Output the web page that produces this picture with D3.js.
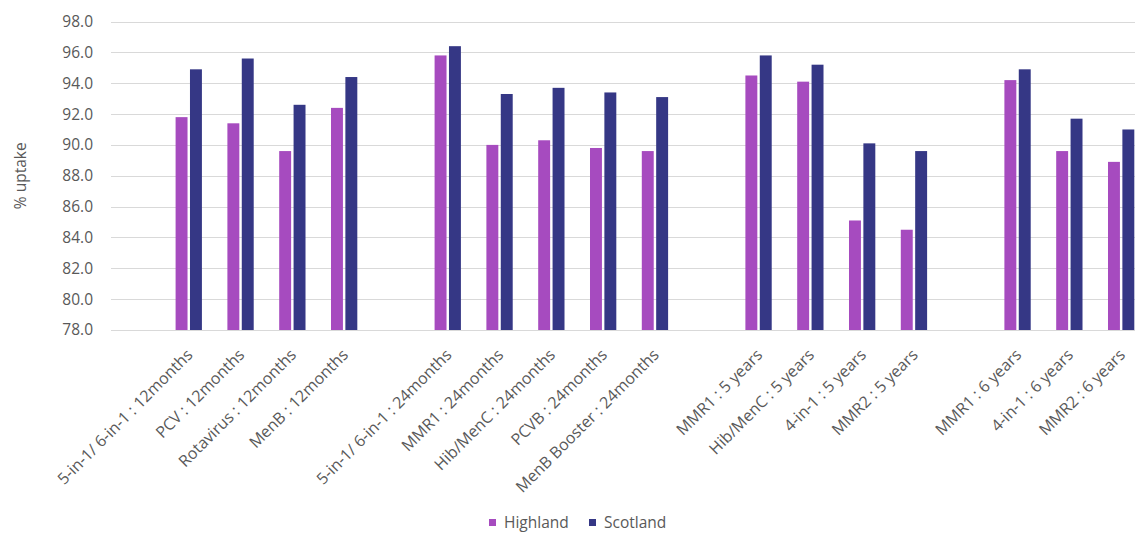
<!DOCTYPE html>
<html>
<head>
<meta charset="utf-8">
<script src="https://cdn.jsdelivr.net/npm/d3@7"></script>
<style>
  html, body { margin: 0; padding: 0; background: #fff; }
  svg { display: block; }
  text { font-family: "Open Sans", "Noto Sans", sans-serif; fill: #595959; }
</style>
</head>
<body>
<svg id="chart" width="1135" height="533"></svg>
<script>
// Vaccine uptake (%) by age stage; null marks a spacer slot between stage groups
const categories = [
  null,
  "5-in-1/ 6-in-1 : 12months", "PCV : 12months", "Rotavirus : 12months", "MenB : 12months",
  null,
  "5-in-1/ 6-in-1 : 24months", "MMR1 : 24months", "Hib/MenC : 24months", "PCVB : 24months", "MenB Booster : 24months",
  null,
  "MMR1 : 5 years", "Hib/MenC : 5 years", "4-in-1 : 5 years", "MMR2 : 5 years",
  null,
  "MMR1 : 6 years", "4-in-1 : 6 years", "MMR2 : 6 years"
];
const highland = [
  null, 91.8, 91.4, 89.6, 92.4,
  null, 95.8, 90.0, 90.3, 89.8, 89.6,
  null, 94.5, 94.1, 85.1, 84.5,
  null, 94.2, 89.6, 88.9
];
const scotland = [
  null, 94.9, 95.6, 92.6, 94.4,
  null, 96.4, 93.3, 93.7, 93.4, 93.1,
  null, 95.8, 95.2, 90.1, 89.6,
  null, 94.9, 91.7, 91.0
];
const seriesNames = ["Highland", "Scotland"];
const seriesColors = ["#a64bbf", "#353785"];
const yTicks = [78, 80, 82, 84, 86, 88, 90, 92, 94, 96, 98];
const yLabel = "% uptake";

const svg = d3.select("#chart");
const plot = { left: 111, right: 1147, top: 21.5, bottom: 330 };

const x = d3.scaleBand()
  .domain(d3.range(categories.length))
  .range([plot.left, plot.right])
  .paddingInner(0).paddingOuter(0);

const xs = d3.scaleBand()
  .domain(seriesNames)
  .range([x.bandwidth() * 0.247, x.bandwidth() * 0.755])
  .paddingInner(0.17);

const y = d3.scaleLinear().domain([78, 98]).range([plot.bottom, plot.top]);

// Horizontal gridlines
svg.append("g")
  .selectAll("line")
  .data(yTicks)
  .join("line")
  .attr("x1", plot.left).attr("x2", plot.right)
  .attr("y1", d => Math.round(y(d)) + 0.5).attr("y2", d => Math.round(y(d)) + 0.5)
  .attr("stroke", "#d9d9d9").attr("stroke-width", 1);

// Y axis labels
const yAxis = d3.axisLeft(y).tickValues(yTicks).tickFormat(d3.format(".1f")).tickSize(0).tickPadding(18);
const gy = svg.append("g").attr("transform", `translate(${plot.left},0)`).call(yAxis);
gy.select(".domain").remove();
gy.selectAll("text").style("font-size", "15.5px").attr("fill", "#595959")
  .style("font-family", "'Open Sans', sans-serif");

// Y axis title
svg.append("text")
  .attr("transform", `translate(25.5, ${(plot.top + plot.bottom) / 2}) rotate(-90)`)
  .attr("text-anchor", "middle")
  .style("font-size", "15.5px")
  .text(yLabel);

// Bars
const seriesData = [highland, scotland];
seriesData.forEach((vals, si) => {
  svg.append("g")
    .selectAll("rect")
    .data(vals.map((v, i) => ({ i, v })).filter(d => d.v != null))
    .join("rect")
    .attr("x", d => x(d.i) + xs(seriesNames[si]))
    .attr("width", xs.bandwidth())
    .attr("y", d => y(d.v))
    .attr("height", d => y(78) - y(d.v))
    .attr("fill", seriesColors[si]);
});

// Category labels, rotated 45°
svg.append("g")
  .selectAll("text")
  .data(categories.map((c, i) => ({ c, i })).filter(d => d.c != null))
  .join("text")
  .attr("transform", d => `translate(${x(d.i) + x.bandwidth() / 2 + 1}, 352) rotate(-45)`)
  .attr("text-anchor", "end")
  .attr("dy", "0.35em")
  .style("font-size", "16px")
  .text(d => d.c);

// Legend
const legend = svg.append("g");
const legendX = [489, 589];
seriesNames.forEach((name, i) => {
  legend.append("rect")
    .attr("x", legendX[i]).attr("y", 519)
    .attr("width", 7).attr("height", 7)
    .attr("fill", seriesColors[i]);
  legend.append("text")
    .attr("x", legendX[i] + 15).attr("y", 528)
    .style("font-size", "15.5px")
    .text(name);
});
</script>
</body>
</html>
